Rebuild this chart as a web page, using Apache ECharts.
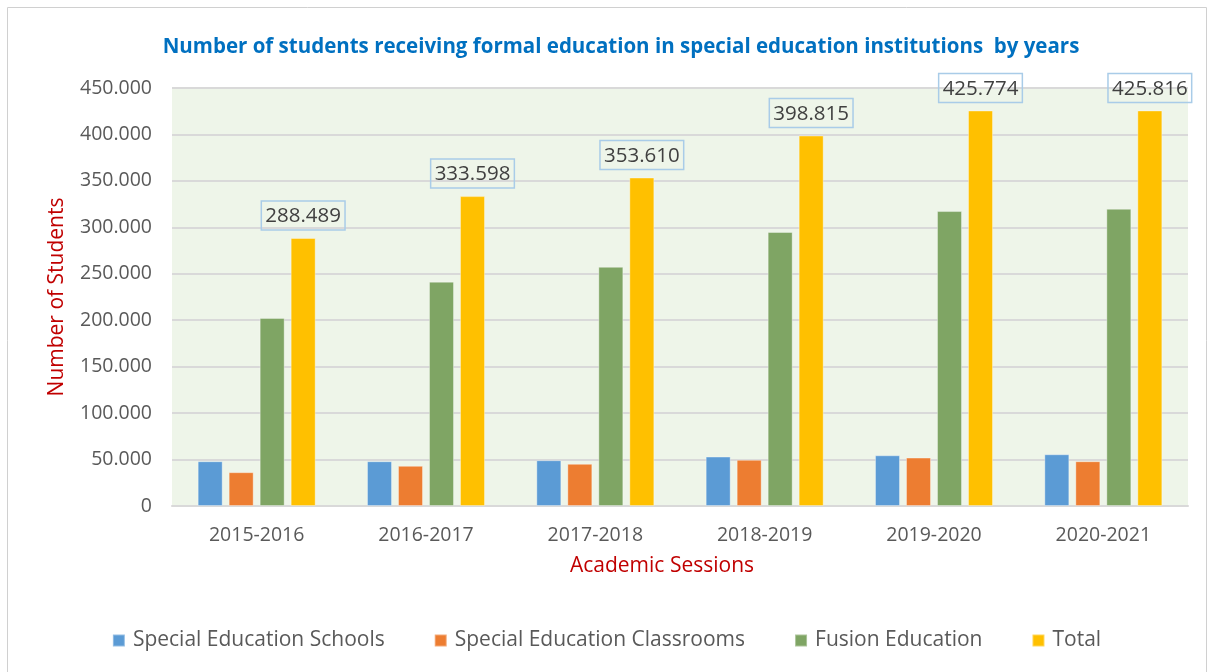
<!DOCTYPE html>
<html>
<head>
    <meta charset="UTF-8">
    <title>Special education students by years</title>
    <script src="https://cdn.jsdelivr.net/npm/echarts@6/dist/echarts.min.js"></script>
    <style>
        body {
            margin: 0;
            background-color: #ffffff;
        }
        #chart {
            width: 1213px;
            height: 672px;
        }
    </style>
</head>
<body>
    <div id="chart"></div>
    <script>
        // data
        const sessions = ['2015-2016', '2016-2017', '2017-2018', '2018-2019', '2019-2020', '2020-2021'];
        const schools = [48200, 48200, 49300, 53200, 54600, 55700];
        const classrooms = [36400, 43200, 45400, 49700, 52100, 48200];
        const fusion = [202500, 241500, 257500, 295000, 317500, 320000];
        const total = [288489, 333598, 353610, 398815, 425774, 425816];

        const fontFamily = '"Open Sans", "Noto Sans", sans-serif';

        // 1234567 -> 1.234.567
        function dotFormat(v) {
            return String(Math.round(v)).replace(/\B(?=(\d{3})+(?!\d))/g, '.');
        }

        const chart = echarts.init(document.getElementById('chart'));

        function barSeries(name, data, color) {
            return {
                name: name,
                type: 'bar',
                data: data,
                barWidth: 25,
                barGap: '24%',
                itemStyle: { color: color, borderColor: 'rgba(255,255,255,0.35)', borderWidth: 1 }
            };
        }

        const totalSeries = barSeries('Total', total, '#FFC000');
        totalSeries.label = {
            show: true,
            position: 'top',
            distance: 8,
            formatter: p => dotFormat(p.value),
            fontFamily: fontFamily,
            fontSize: 20.5,
            color: '#404040',
            borderColor: '#A9CCE8',
            borderWidth: 1.5,
            padding: [5, 4, 3, 4]
        };

        const option = {
            animation: false,
            textStyle: { fontFamily: fontFamily },
            title: {
                text: 'Number of students receiving formal education in special education institutions  by years',
                left: 616,
                textAlign: 'center',
                top: 32,
                textStyle: { color: '#0070C0', fontSize: 20.5, fontWeight: 'bold', fontFamily: fontFamily }
            },
            graphic: [{
                type: 'rect',
                shape: { x: 7.5, y: 7.5, width: 1199, height: 700 },
                style: { fill: 'none', stroke: '#D0D0D0', lineWidth: 1 },
                silent: true
            }],
            grid: {
                left: 172,
                right: 25,
                top: 88,
                bottom: 166,
                show: true,
                backgroundColor: '#EEF5E9',
                borderWidth: 0
            },
            legend: {
                bottom: 16,
                left: 'center',
                itemWidth: 12,
                itemHeight: 12,
                itemGap: 49,
                icon: 'rect',
                textStyle: { fontSize: 21, color: '#595959', fontFamily: fontFamily, padding: [0, 0, 0, 3] },
                data: ['Special Education Schools', 'Special Education Classrooms', 'Fusion Education', 'Total']
            },
            xAxis: {
                type: 'category',
                data: sessions,
                name: 'Academic Sessions',
                nameLocation: 'middle',
                nameGap: 50,
                nameTextStyle: { color: '#C00000', fontSize: 21, padding: [0, 36, 0, 0] },
                axisLine: { lineStyle: { color: '#D9D9D9', width: 2 } },
                axisTick: { show: false },
                axisLabel: { color: '#595959', fontSize: 19.5, margin: 19 }
            },
            yAxis: {
                type: 'value',
                min: 0,
                max: 450000,
                interval: 50000,
                name: 'Number of Students',
                nameLocation: 'middle',
                nameGap: 104,
                nameTextStyle: { color: '#C00000', fontSize: 21 },
                axisLine: { show: false },
                axisTick: { show: false },
                axisLabel: { color: '#595959', fontSize: 19.5, margin: 20, formatter: v => dotFormat(v) },
                splitLine: { lineStyle: { color: '#D9D9D9', width: 2 } }
            },
            series: [
                barSeries('Special Education Schools', schools, '#5B9BD5'),
                barSeries('Special Education Classrooms', classrooms, '#ED7D31'),
                barSeries('Fusion Education', fusion, '#7FA564'),
                totalSeries
            ]
        };

        chart.setOption(option);
    </script>
</body>
</html>
